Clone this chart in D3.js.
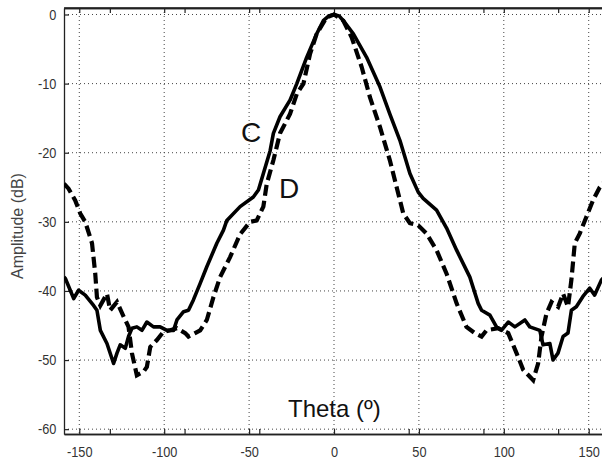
<!DOCTYPE html>
<html>
<head>
<meta charset="utf-8">
<script src="https://cdn.jsdelivr.net/npm/d3@7"></script>
<style>
  body { margin: 0; background: #fff; }
  .grid line { stroke: #444; stroke-width: 1; stroke-dasharray: 1,3; }
  .tickLabel { font-family: Arial, "Liberation Sans", sans-serif; font-size: 15px; fill: #333; }
</style>
</head>
<body>
<script>
// chart data
var thetaC = [-159, -158.2, -153.3, -150.4, -146.5, -141.6, -139.6, -137.6, -133.7, -129.8, -127.8, -125.9, -122.9, -121, -119, -116.1, -113.1, -110.2, -106.3, -102.4, -98.4, -94.5, -92.5, -88.6, -85.7, -82.8, -78.8, -74.9, -69, -65.1, -63.1, -55.3, -47.5, -44.5, -41.6, -37.6, -35.7, -31.8, -25.9, -21.9, -16.1, -10.2, -6.3, -3, 0, 3, 5.5, 11.4, 19.2, 27.1, 32.9, 38.8, 44.7, 49.6, 52.5, 60.4, 66.3, 72.2, 80, 84.9, 86.9, 91.8, 95.7, 98.6, 102.6, 106.5, 112.4, 115.3, 121.2, 123.1, 127.1, 129, 131.9, 134.9, 137.8, 139.8, 142.7, 146.6, 150.6, 153.5, 157.5, 159];
var ampC = [-38.0, -38.2, -41.1, -39.9, -40.6, -42.1, -42.8, -45.7, -47.6, -50.5, -49.0, -47.8, -48.3, -46.6, -45.4, -45.2, -45.7, -44.5, -45.2, -45.2, -45.7, -45.7, -44.2, -43.0, -42.8, -41.3, -38.9, -36.5, -33.1, -31.2, -29.8, -27.8, -26.4, -25.4, -23.0, -19.7, -17.2, -14.8, -12.4, -10.0, -6.2, -2.8, -0.9, -0.2, 0, -0.2, -0.9, -2.8, -6.2, -10.5, -14.4, -18.2, -23.0, -25.7, -26.6, -28.3, -30.9, -34.1, -38.0, -41.8, -42.8, -43.5, -45.2, -45.7, -44.5, -45.2, -44.2, -45.2, -45.7, -47.8, -47.6, -50.0, -49.0, -46.6, -46.1, -42.8, -42.3, -40.8, -39.6, -40.6, -38.4, -38.0];

var thetaD = [-159, -156.3, -152.4, -149.4, -146.5, -142.5, -140.6, -139.6, -137.6, -133.7, -131.8, -127.8, -123.9, -121, -119, -116.1, -112.2, -110.2, -108.2, -104.3, -100.4, -96.5, -92.5, -87.6, -85.7, -81.8, -78.8, -74.9, -71, -67.1, -61.2, -55.3, -49.4, -45.5, -41.6, -39.6, -35.7, -31.8, -25.9, -21.9, -18, -14.1, -10.2, -4.3, 0, 5.5, 10.4, 16.3, 21.2, 27.1, 32.9, 36.9, 40.8, 44.7, 49.6, 54.5, 60.4, 66.3, 72.2, 78, 82.9, 86.9, 89.8, 96.7, 102.6, 107.5, 111.4, 117.3, 120.2, 122.2, 125.1, 128.1, 132, 134.9, 137.8, 139.8, 141.8, 144.7, 148.6, 152.5, 156.5, 159];
var ampD = [-24.5, -25.2, -26.9, -28.8, -30.0, -33.1, -37.5, -40.9, -42.1, -40.4, -42.8, -41.6, -43.7, -45.2, -49.0, -52.2, -51.7, -51.0, -48.1, -47.1, -45.9, -45.7, -45.4, -46.1, -46.6, -46.1, -45.7, -44.2, -40.9, -38.0, -35.1, -31.8, -30.0, -29.8, -27.8, -24.5, -21.1, -17.2, -14.4, -11.5, -10.0, -5.7, -2.8, -0.4, 0, -0.9, -3.3, -7.6, -12.0, -16.3, -21.1, -25.0, -28.8, -30.2, -30.5, -31.7, -34.1, -37.5, -41.8, -45.2, -46.1, -46.6, -45.7, -45.4, -46.1, -49.0, -51.4, -52.9, -50.5, -46.6, -43.3, -41.6, -42.3, -40.4, -42.3, -38.4, -33.1, -31.7, -29.3, -26.9, -25.0, -24.3];

// tick values
var xTicks = [-150, -100, -50, 0, 50, 100, 150];
var xMinorTicks = [-132, -88, -44, 44, 88, 132];
var yTicks = [0, -10, -20, -30, -40, -50, -60];

(function(){
  var width = 602, height = 460;
  var left = 64, top = 8, right = 604, bottom = 434;

  var svg = d3.select("body").append("svg")
    .attr("width", width)
    .attr("height", height);

  var x = d3.scaleLinear().domain([-159, 159]).range([left, right]);
  var y = d3.scaleLinear().domain([0.94, -60.7]).range([top, bottom]);

  // plain hyphen labels like the original
  var fmt = function(d){ return String(d); };

  // dotted grid
  var grid = svg.append("g").attr("class", "grid");
  grid.selectAll(".vgrid").data(xTicks).enter().append("line")
    .attr("x1", function(d){ return x(d); })
    .attr("x2", function(d){ return x(d); })
    .attr("y1", top).attr("y2", bottom);
  grid.selectAll(".hgrid").data(yTicks).enter().append("line")
    .attr("x1", left).attr("x2", right)
    .attr("y1", function(d){ return y(d); })
    .attr("y2", function(d){ return y(d); });

  // axes: inward ticks
  var xAxis = svg.append("g")
    .attr("transform", "translate(0," + bottom + ")")
    .call(d3.axisBottom(x).tickValues(xTicks).tickFormat(fmt).tickSizeInner(-5).tickSizeOuter(0).tickPadding(12));
  var xTop = svg.append("g")
    .attr("transform", "translate(0," + top + ")")
    .call(d3.axisTop(x).tickValues(xTicks).tickSizeInner(-5).tickSizeOuter(0).tickFormat(""));
  var xMinB = svg.append("g")
    .attr("transform", "translate(0," + bottom + ")")
    .call(d3.axisBottom(x).tickValues(xMinorTicks).tickSizeInner(-5).tickSizeOuter(0).tickFormat(""));
  var xMinT = svg.append("g")
    .attr("transform", "translate(0," + top + ")")
    .call(d3.axisTop(x).tickValues(xMinorTicks).tickSizeInner(-5).tickSizeOuter(0).tickFormat(""));
  var yAxis = svg.append("g")
    .attr("transform", "translate(" + left + ",0)")
    .call(d3.axisLeft(y).tickValues(yTicks).tickFormat(fmt).tickSizeInner(-5).tickSizeOuter(0).tickPadding(9));

  [xAxis, xTop, xMinB, xMinT, yAxis].forEach(function(g){
    g.select(".domain").attr("stroke", "#222").attr("stroke-width", 1.3);
    g.selectAll(".tick line").attr("stroke", "#222").attr("stroke-width", 1.2);
  });
  xAxis.selectAll("text").attr("class", "tickLabel")
    .attr("transform", "scale(0.85,1)");
  yAxis.selectAll("text").attr("class", "tickLabel")
    .attr("transform", "scale(0.85,1)");

  // top border line
  svg.append("line")
    .attr("x1", left).attr("x2", right)
    .attr("y1", top).attr("y2", top)
    .attr("stroke", "#222").attr("stroke-width", 1.3);

  // clip for curves
  svg.append("clipPath").attr("id", "plotClip")
    .append("rect")
    .attr("x", left).attr("y", top)
    .attr("width", right - left).attr("height", bottom - top);

  var line = d3.line()
    .x(function(d){ return x(d[0]); })
    .y(function(d){ return y(d[1]); });

  var dataC = d3.zip(thetaC, ampC);
  var dataD = d3.zip(thetaD, ampD);

  svg.append("path")
    .datum(dataD)
    .attr("clip-path", "url(#plotClip)")
    .attr("d", line)
    .attr("fill", "none")
    .attr("stroke", "#000")
    .attr("stroke-width", 4.2)
    .attr("stroke-dasharray", "11,5");

  svg.append("path")
    .datum(dataC)
    .attr("clip-path", "url(#plotClip)")
    .attr("d", line)
    .attr("fill", "none")
    .attr("stroke", "#000")
    .attr("stroke-width", 3.6)
    .attr("stroke-linejoin", "round");

  // labels
  svg.append("text")
    .attr("transform", "translate(23,226) rotate(-90)")
    .attr("text-anchor", "middle")
    .style("font-family", "Arial, 'Liberation Sans', sans-serif")
    .style("font-size", "16px")
    .style("fill", "#444")
    .text("Amplitude (dB)");

  svg.append("text")
    .attr("x", 288).attr("y", 417)
    .style("font-family", "Arial, 'Liberation Sans', sans-serif")
    .style("font-size", "24px")
    .style("fill", "#111")
    .text("Theta (º)");

  svg.append("text")
    .attr("x", 241).attr("y", 142)
    .style("font-family", "Arial, 'Liberation Sans', sans-serif")
    .style("font-size", "28px")
    .style("fill", "#111")
    .text("C");

  svg.append("text")
    .attr("x", 279).attr("y", 198)
    .style("font-family", "Arial, 'Liberation Sans', sans-serif")
    .style("font-size", "28px")
    .style("fill", "#111")
    .text("D");
})();
</script>
</body>
</html>
